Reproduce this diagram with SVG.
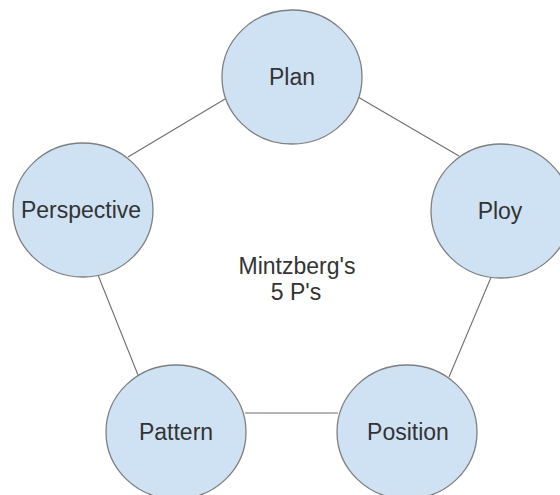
<svg xmlns="http://www.w3.org/2000/svg" width="560" height="495" viewBox="0 0 560 495">
<style>
.node{fill:#cfe2f3;stroke:#7f7f7f;stroke-width:1.3}
.lbl{font-family:"Liberation Sans",Arial,sans-serif;font-size:23px;fill:#333333;text-anchor:middle}
.conn{stroke:#6f6f6f;stroke-width:1.1;fill:none}
</style>
<rect width="560" height="495" fill="#ffffff"/>
<g id="connectors">
<line class="conn" x1="128" y1="157" x2="225" y2="99"/>
<line class="conn" x1="358" y1="97" x2="459" y2="156"/>
<line class="conn" x1="98" y1="275" x2="138" y2="375"/>
<line class="conn" x1="492" y1="275" x2="449" y2="377"/>
<line class="conn" x1="245" y1="413" x2="338" y2="413"/>
</g>
<g id="plan"><ellipse class="node" cx="292" cy="77" rx="70" ry="67"/><text class="lbl" x="292" y="85">Plan</text></g>
<g id="perspective"><ellipse class="node" cx="83" cy="210" rx="70" ry="67"/><text class="lbl" x="81" y="218">Perspective</text></g>
<g id="ploy"><ellipse class="node" cx="501" cy="211" rx="70" ry="67"/><text class="lbl" x="500" y="219">Ploy</text></g>
<g id="pattern"><ellipse class="node" cx="176" cy="432" rx="70" ry="67"/><text class="lbl" x="176" y="440">Pattern</text></g>
<g id="position"><ellipse class="node" cx="407" cy="432" rx="70" ry="67"/><text class="lbl" x="408" y="440">Position</text></g>
<g id="center"><text class="lbl" x="297" y="274">Mintzberg's</text><text class="lbl" x="296" y="300">5 P's</text></g>
</svg>
